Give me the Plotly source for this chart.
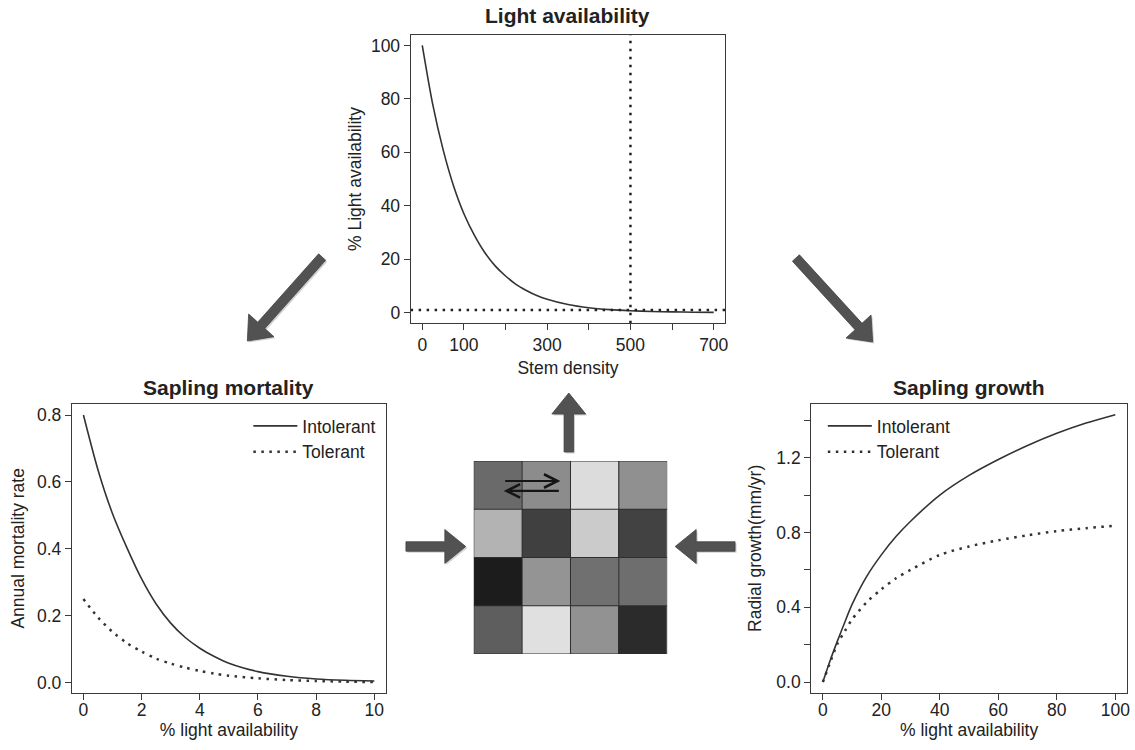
import plotly.graph_objects as go

W, H = 1135, 750
FONT = "Liberation Sans, Arial, Helvetica, sans-serif"
INK = "#222222"
LINE = "#3a3a3a"
DOT = "2.5px,5.5px"

# ---------------- data ----------------
stem_density = [0, 25, 50, 75, 100, 125, 150, 175, 200, 225, 250, 275, 300,
                350, 400, 450, 500, 550, 600, 650, 700]
light_pct = [100, 78, 61, 47.5, 37, 29, 22.5, 17.5, 13.7, 10.6, 8.3, 6.4, 5.0,
             3.0, 1.8, 1.1, 0.68, 0.42, 0.26, 0.16, 0.1]
light_threshold = [1.0, 1.0]
threshold_span = [-28, 728]
density_marker = [500, 500]
marker_span = [-4, 104]
top_xticks = [0, 100, 200, 300, 400, 500, 600, 700]
top_xticklabels = ["0", "100", "", "300", "", "500", "", "700"]
top_yticks = [0, 20, 40, 60, 80, 100]

mort_light = [0, 0.5, 1, 1.5, 2, 2.5, 3, 3.5, 4, 4.5, 5, 6, 7, 8, 9, 10]
mort_intolerant = [0.80, 0.636, 0.505, 0.402, 0.31, 0.235, 0.178, 0.135, 0.103,
                   0.078, 0.058, 0.033, 0.019, 0.011, 0.007, 0.005]
mort_tolerant = [0.25, 0.195, 0.152, 0.118, 0.093, 0.072, 0.057, 0.045, 0.035,
                 0.027, 0.021, 0.013, 0.008, 0.005, 0.003, 0.002]
mort_xticks = [0, 2, 4, 6, 8, 10]
mort_yticks = [0.0, 0.2, 0.4, 0.6, 0.8]

growth_light = [0, 2.5, 5, 7.5, 10, 15, 20, 25, 30, 40, 50, 60, 70, 80, 90, 100]
growth_intolerant = [0, 0.115, 0.22, 0.32, 0.415, 0.565, 0.68, 0.778, 0.86, 1.0,
                     1.105, 1.19, 1.265, 1.33, 1.385, 1.43]
growth_tolerant = [0, 0.105, 0.205, 0.272, 0.335, 0.427, 0.496, 0.555, 0.6, 0.68,
                   0.725, 0.758, 0.785, 0.807, 0.823, 0.836]
growth_xticks = [0, 20, 40, 60, 80, 100]
growth_yticks = [0.0, 0.2, 0.4, 0.6, 0.8, 1.0, 1.2, 1.4]
growth_yticklabels = ["0.0", "", "0.4", "", "0.8", "", "1.2", ""]

grid_gray = [[106, 140, 220, 144],
             [179, 64, 203, 66],
             [28, 148, 112, 110],
             [94, 224, 146, 43]]
grid_cols = [0, 1, 2, 3]
grid_rows = [0, 1, 2, 3]


# ---------------- helpers (pixel -> paper) ----------------
def px(x):
    return x / W


def py(y):
    return 1 - y / H


def block_arrow(tail, tip, sw=9.5, hw=34, hl=21, dx=0.0, dy=0.0):
    tx, ty = tail[0] + dx, tail[1] + dy
    hx, hy = tip[0] + dx, tip[1] + dy
    vx, vy = hx - tx, hy - ty
    L = (vx ** 2 + vy ** 2) ** 0.5
    ux, uy = vx / L, vy / L
    nx, ny = -uy, ux
    bx, by = hx - ux * hl, hy - uy * hl
    pts = [
        (tx + nx * sw / 2, ty + ny * sw / 2),
        (bx + nx * sw / 2, by + ny * sw / 2),
        (bx + nx * hw / 2, by + ny * hw / 2),
        (hx, hy),
        (bx - nx * hw / 2, by - ny * hw / 2),
        (bx - nx * sw / 2, by - ny * sw / 2),
        (tx - nx * sw / 2, ty - ny * sw / 2),
    ]
    return "M" + " L".join(f"{px(a):.5f},{py(b):.5f}" for a, b in pts) + " Z"


fig = go.Figure()

# ---------------- top panel: light availability ----------------
fig.add_trace(go.Scatter(x=stem_density, y=light_pct, mode="lines",
                         line=dict(color="#333333", width=1.6, shape="spline", smoothing=0.8),
                         xaxis="x", yaxis="y", showlegend=False))
fig.add_trace(go.Scatter(x=threshold_span, y=light_threshold, mode="lines",
                         line=dict(color="#222222", width=2.5, dash=DOT),
                         xaxis="x", yaxis="y", showlegend=False))
fig.add_trace(go.Scatter(x=density_marker, y=marker_span, mode="lines",
                         line=dict(color="#222222", width=2.5, dash=DOT),
                         xaxis="x", yaxis="y", showlegend=False))

# ---------------- left panel: sapling mortality ----------------
fig.add_trace(go.Scatter(x=mort_light, y=mort_intolerant, mode="lines", name="Intolerant",
                         line=dict(color="#333333", width=1.6, shape="spline", smoothing=0.8),
                         xaxis="x2", yaxis="y2", legend="legend"))
fig.add_trace(go.Scatter(x=mort_light, y=mort_tolerant, mode="lines", name="Tolerant",
                         line=dict(color="#333333", width=2.5, dash=DOT, shape="spline",
                                   smoothing=0.8),
                         xaxis="x2", yaxis="y2", legend="legend"))

# ---------------- right panel: sapling growth ----------------
fig.add_trace(go.Scatter(x=growth_light, y=growth_intolerant, mode="lines", name="Intolerant",
                         line=dict(color="#333333", width=1.6, shape="spline", smoothing=0.8),
                         xaxis="x3", yaxis="y3", legend="legend2"))
fig.add_trace(go.Scatter(x=growth_light, y=growth_tolerant, mode="lines", name="Tolerant",
                         line=dict(color="#333333", width=2.5, dash=DOT, shape="spline",
                                   smoothing=0.8),
                         xaxis="x3", yaxis="y3", legend="legend2"))

# ---------------- centre grid ----------------
fig.add_trace(go.Heatmap(z=grid_gray, x=grid_cols, y=grid_rows,
                         colorscale=[[0, "#000000"], [1, "#ffffff"]], zmin=0, zmax=255,
                         showscale=False, hoverinfo="skip", xaxis="x4", yaxis="y4"))

axis_common = dict(showline=True, mirror=True, linecolor=LINE, linewidth=1,
                   ticks="outside", ticklen=6, tickwidth=1, tickcolor=LINE,
                   showgrid=False, zeroline=False,
                   tickfont=dict(size=17.5, color=INK, family=FONT),
                   title_font=dict(size=17.5, color=INK, family=FONT))

top_x = [411.7, 727.3]
top_y = [34.7, 323.3]
left_x = [72, 387]
right_x = [813.3, 1130]
low_y = [404, 692.7]
grid_x = [475, 669]
grid_y = [461, 654]

legend_style = dict(xanchor="left", yanchor="top", bgcolor="rgba(0,0,0,0)",
                    font=dict(size=17.5, color=INK, family=FONT),
                    tracegroupgap=0, itemwidth=44)

fig.update_layout(
    width=W, height=H, autosize=False,
    margin=dict(l=0, r=0, t=0, b=0),
    paper_bgcolor="white", plot_bgcolor="white",
    font=dict(family=FONT, color=INK, size=17.5),
    xaxis=dict(domain=[px(top_x[0]), px(top_x[1])], range=[-28, 728],
               tickvals=top_xticks, ticktext=top_xticklabels,
               title=dict(text="Stem density", standoff=7), anchor="y", **axis_common),
    yaxis=dict(domain=[py(top_y[1]), py(top_y[0])], range=[-4, 104],
               tickvals=top_yticks,
               title=dict(text="% Light availability", standoff=4), anchor="x", **axis_common),
    xaxis2=dict(domain=[px(left_x[0]), px(left_x[1])], range=[-0.4, 10.4],
                tickvals=mort_xticks, ticklabelstandoff=-5,
                title=dict(text="% light availability", standoff=0), anchor="y2", **axis_common),
    yaxis2=dict(domain=[py(low_y[1]), py(low_y[0])], range=[-0.03, 0.833],
                tickvals=mort_yticks, tickformat=".1f",
                title=dict(text="Annual mortality rate", standoff=7), anchor="x2", **axis_common),
    xaxis3=dict(domain=[px(right_x[0]), px(right_x[1])], range=[-4, 104],
                tickvals=growth_xticks, ticklabelstandoff=-5,
                title=dict(text="% light availability", standoff=0), anchor="y3", **axis_common),
    yaxis3=dict(domain=[py(low_y[1]), py(low_y[0])], range=[-0.057, 1.487],
                tickvals=growth_yticks, ticktext=growth_yticklabels,
                title=dict(text="Radial growth(mm/yr)", standoff=10), anchor="x3", **axis_common),
    xaxis4=dict(domain=[px(grid_x[0]), px(grid_x[1])], range=[-0.5, 3.5],
                visible=False, anchor="y4", fixedrange=True),
    yaxis4=dict(domain=[py(grid_y[1]), py(grid_y[0])], range=[3.5, -0.5],
                visible=False, anchor="x4", fixedrange=True),
    legend=dict(x=px(249), y=py(408), **legend_style),
    legend2=dict(x=px(825), y=py(408), **legend_style),
    showlegend=True,
)

shapes = []
# grid cell borders
for k in range(5):
    v = -0.5 + k
    shapes.append(dict(type="line", xref="x4", yref="y4", x0=v, x1=v, y0=-0.5, y1=3.5,
                       line=dict(color="#2e2e2e", width=1)))
    shapes.append(dict(type="line", xref="x4", yref="y4", x0=-0.5, x1=3.5, y0=v, y1=v,
                       line=dict(color="#2e2e2e", width=1)))

# block arrows (tail, tip in pixels)
arrows = [
    ((570.3, 452), (570.3, 393)),   # up from grid to light panel
    ((407, 546.5), (467, 546.5)),   # from mortality to grid
    ((737, 546.5), (677, 546.5)),   # from growth to grid
    ((323, 257), (248, 341)),       # light -> mortality
    ((798, 258), (875, 342)),       # light -> growth
]
for tail, tip in arrows:
    shapes.append(dict(type="path", xref="paper", yref="paper",
                       path=block_arrow(tail, tip, dx=1.5, dy=1.5),
                       fillcolor="rgba(0,0,0,0.18)", line=dict(width=0), layer="above"))
for tail, tip in arrows:
    shapes.append(dict(type="path", xref="paper", yref="paper",
                       path=block_arrow(tail, tip),
                       fillcolor="#525252", line=dict(color="#444444", width=0.8), layer="above"))
fig.update_layout(shapes=shapes)

# exchange arrows inside the grid (in grid cell units)
exch_y_right = -0.085
exch_y_left = 0.12
exch_x = [0.12, 1.29]
annotations = [
    dict(xref="x4", yref="y4", axref="x4", ayref="y4",
         x=exch_x[1], y=exch_y_right, ax=exch_x[0], ay=exch_y_right,
         showarrow=True, arrowhead=5, arrowsize=1.2, arrowwidth=2.2, arrowcolor="#151515",
         text="", standoff=0, startstandoff=0),
    dict(xref="x4", yref="y4", axref="x4", ayref="y4",
         x=exch_x[0], y=exch_y_left, ax=exch_x[1], ay=exch_y_left,
         showarrow=True, arrowhead=5, arrowsize=1.2, arrowwidth=2.2, arrowcolor="#151515",
         text="", standoff=0, startstandoff=0),
]

# panel titles
titles = [("Light availability", (top_x[0] + top_x[1]) / 2, 16),
          ("Sapling mortality", (left_x[0] + left_x[1]) / 2, 387),
          ("Sapling growth", (right_x[0] + right_x[1]) / 2, 387)]
for text, cx, cy in titles:
    annotations.append(dict(xref="paper", yref="paper", x=px(cx), y=py(cy),
                            xanchor="center", yanchor="middle", showarrow=False,
                            text=f"<b>{text}</b>",
                            font=dict(size=21, color=INK, family=FONT)))
fig.update_layout(annotations=annotations)

fig.write_html("out.html",
               config={"displayModeBar": False},
               post_script="document.body.style.margin='0';document.body.style.overflow='hidden';")
